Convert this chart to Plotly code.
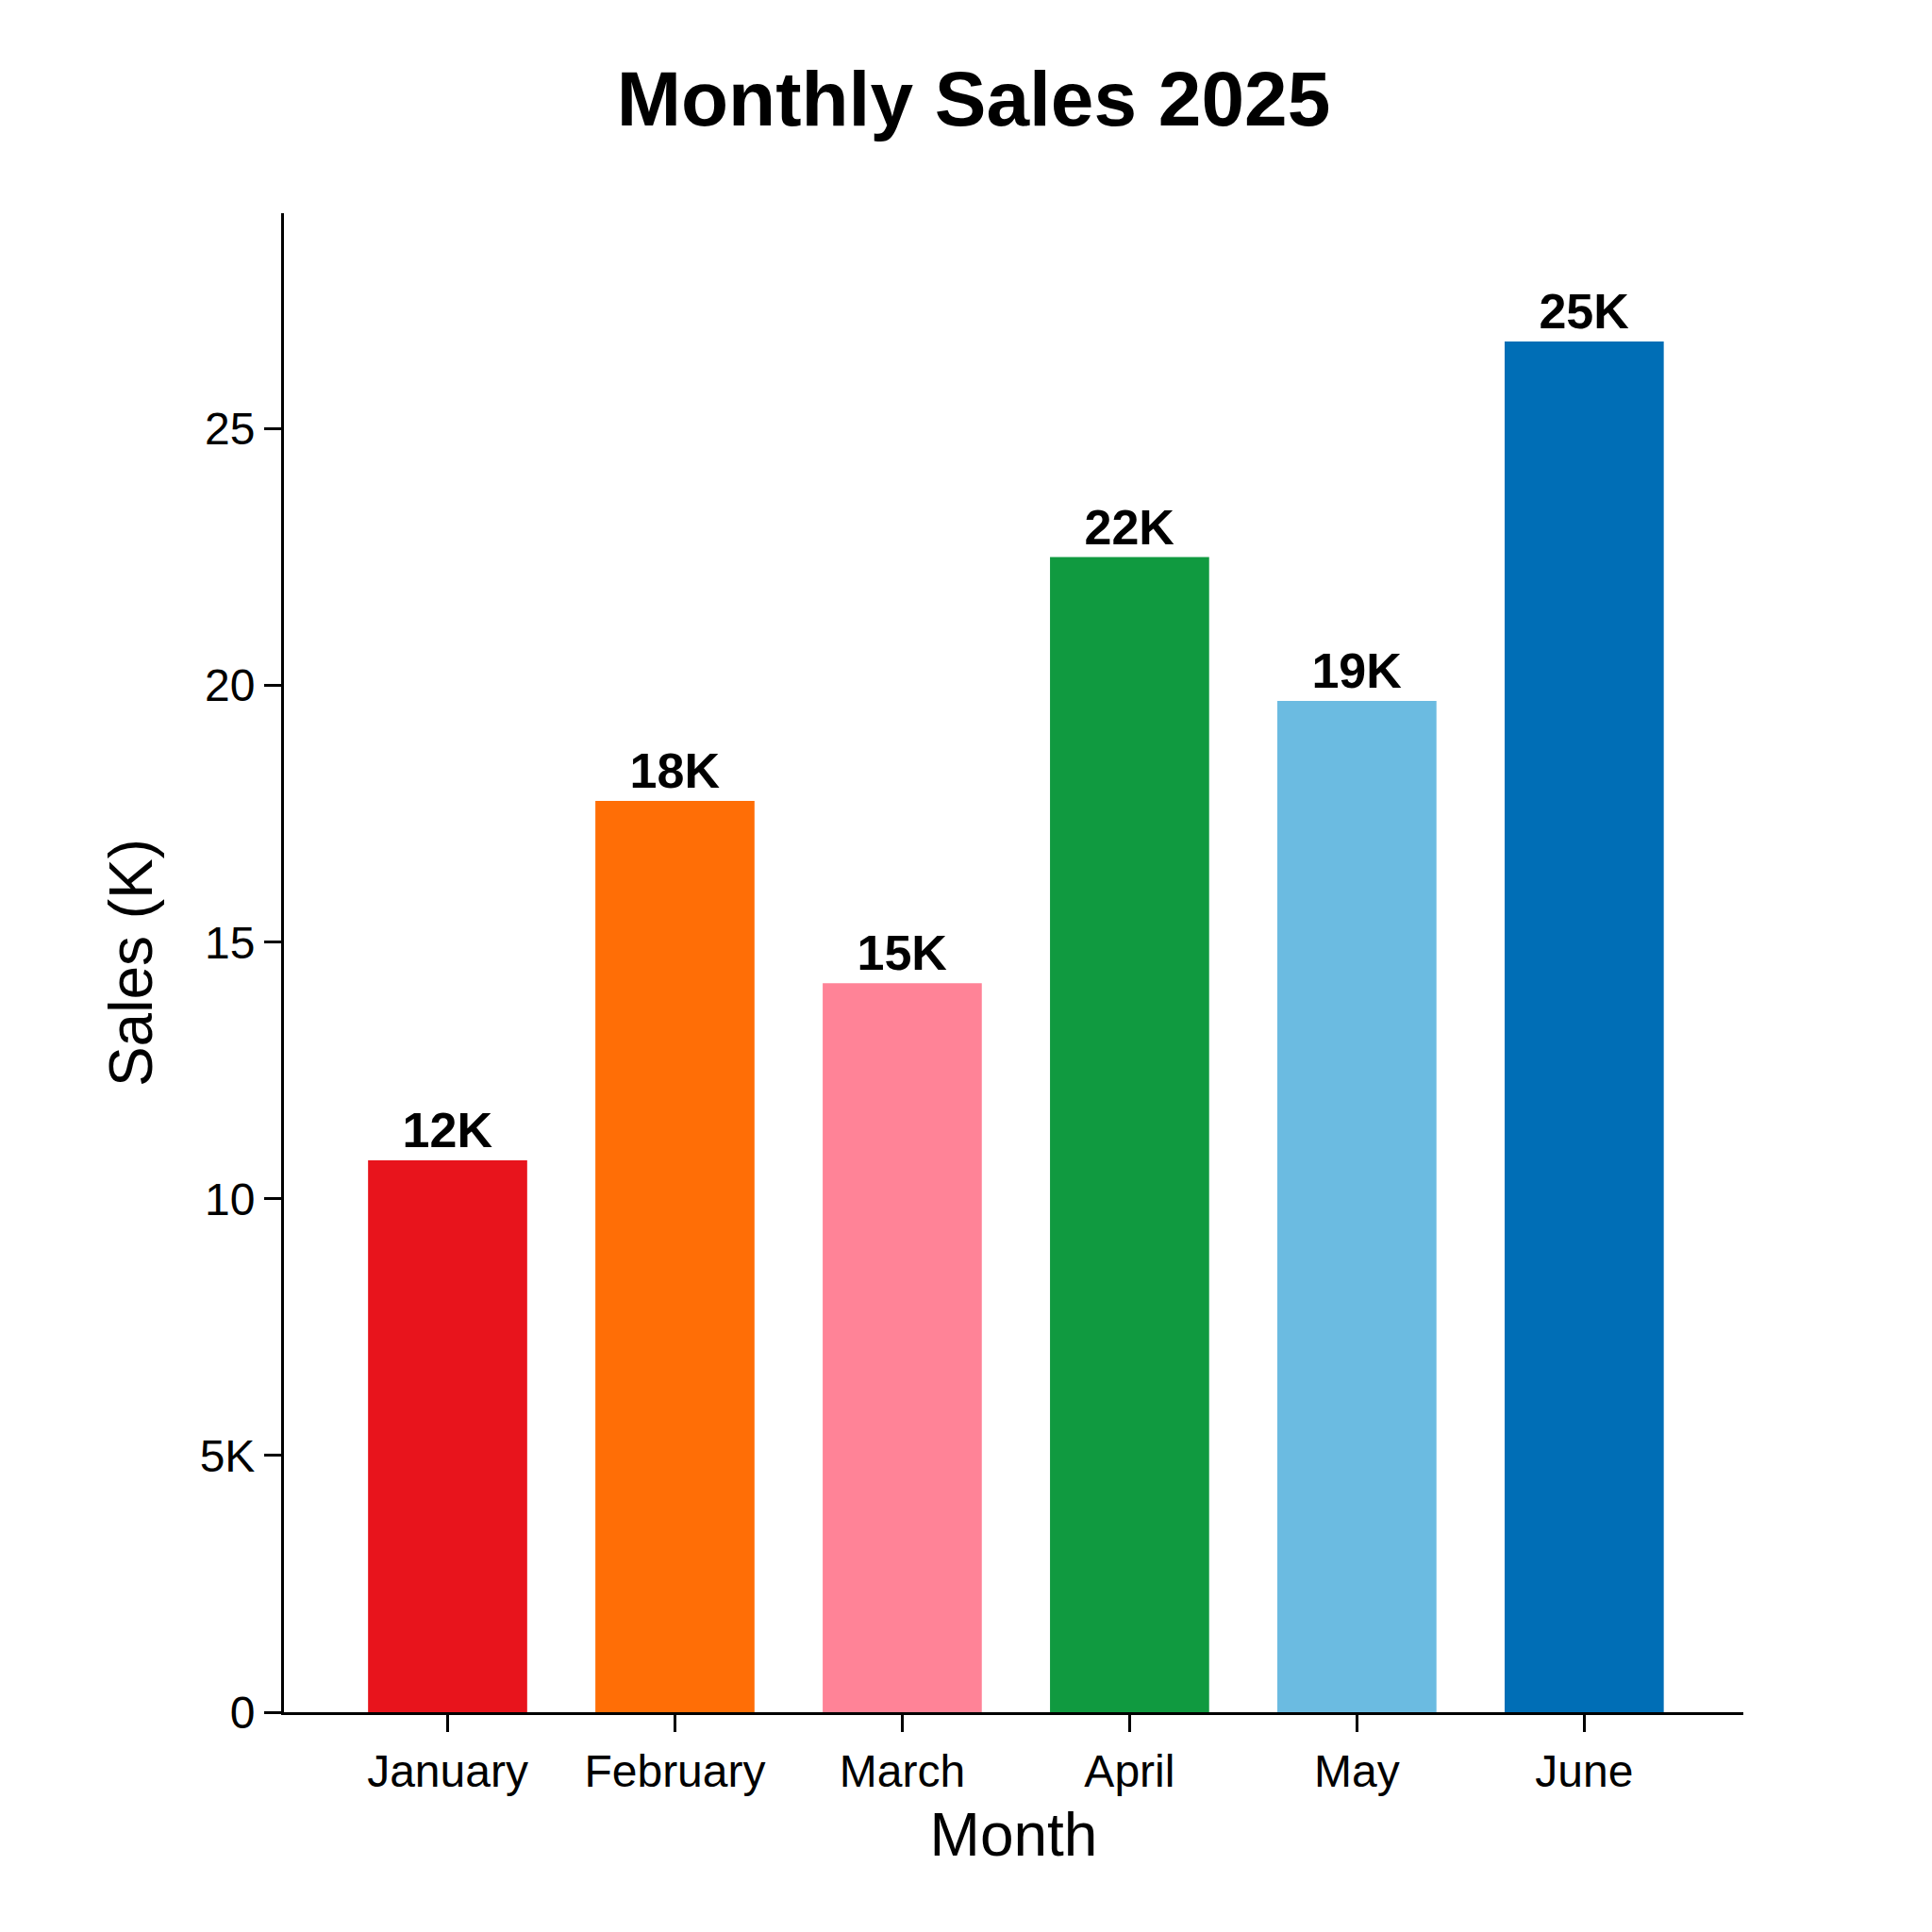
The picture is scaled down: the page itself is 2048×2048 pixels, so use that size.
import plotly.graph_objects as go

months = ['January', 'February', 'March', 'April', 'May', 'June']
sales = [10.75, 17.75, 14.2, 22.5, 19.7, 26.7]
bar_labels = ['12K', '18K', '15K', '22K', '19K', '25K']
colors = ['#E8141C', '#FF6E06', '#FF8397', '#109A40', '#6BBBE1', '#006EB6']
tick_vals = [0, 5, 10, 15, 20, 25]
tick_text = ['0', '5K', '10', '15', '20', '25']

fig = go.Figure(go.Bar(
    x=months, y=sales,
    marker=dict(color=colors, line=dict(width=0)),
    width=0.7,
    text=bar_labels, textposition='outside', cliponaxis=False,
    textfont=dict(size=52, color='black', family='Liberation Sans, Arial', weight='bold'),
))

fig.update_layout(
    width=2048, height=2048,
    paper_bgcolor='white', plot_bgcolor='white',
    margin=dict(l=293, r=208, t=218, b=241),
    font=dict(family='Liberation Sans, Arial', color='black'),
    title=dict(text='<b>Monthly Sales 2025</b>', x=0.5, xanchor='center',
               y=0.953, yanchor='middle', font=dict(size=82)),
    showlegend=False,
)
fig.update_xaxes(
    range=[-0.72, 5.7], showline=True, linecolor='black', linewidth=3,
    ticks='outside', ticklen=18, tickwidth=3, tickcolor='black',
    tickfont=dict(size=48), showgrid=False,
    title=dict(text='Month', font=dict(size=64), standoff=20),
)
fig.update_yaxes(
    range=[0, 29.2], showline=True, linecolor='black', linewidth=3,
    tickvals=tick_vals, ticktext=tick_text,
    ticks='outside', ticklen=18, tickwidth=3, tickcolor='black',
    tickfont=dict(size=48), showgrid=False, zeroline=False,
    title=dict(text='Sales (K)', font=dict(size=64), standoff=30),
)

fig.write_html('out.html')
